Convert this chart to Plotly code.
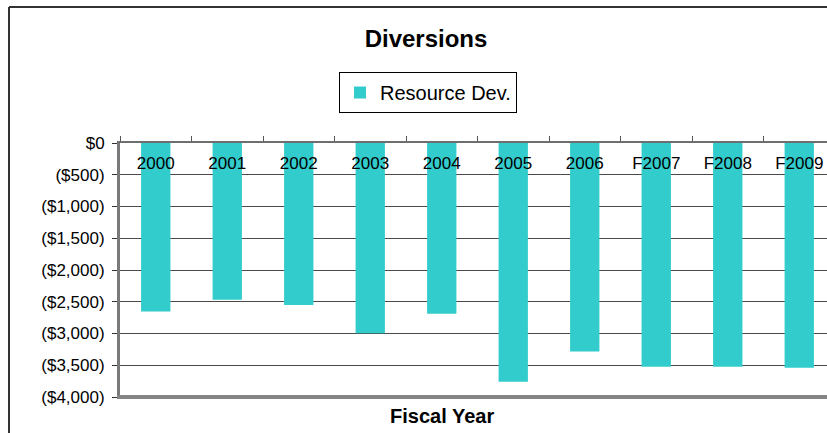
import plotly.graph_objects as go

categories = ["2000", "2001", "2002", "2003", "2004", "2005", "2006", "F2007", "F2008", "F2009"]
resource_dev = [-2655, -2470, -2550, -2995, -2690, -3760, -3285, -3525, -3525, -3540]
y_ticks = [0, -500, -1000, -1500, -2000, -2500, -3000, -3500, -4000]
y_tick_labels = ["$0", "($500)", "($1,000)", "($1,500)", "($2,000)", "($2,500)", "($3,000)", "($3,500)", "($4,000)"]

W, H = 827, 433
L, R, T, B = 120, 0, 143, 36
FONT = "Liberation Sans, Arial, sans-serif"

pw = W - L - R
ph = H - T - B
def px_to_paper_x(px):
    return (px - L) / pw
def py_to_paper_y(py):
    return (H - B - py) / ph

fig = go.Figure()
fig.add_trace(go.Bar(
    x=categories, y=resource_dev, name="Resource Dev.",
    marker=dict(color="#33CCCC", line=dict(width=0)),
))

x_range = [-0.5, len(categories) - 0.5 - 8 / 71.5]

fig.update_layout(
    width=W, height=H,
    margin=dict(l=L, r=R, t=T, b=B, pad=0),
    paper_bgcolor="white", plot_bgcolor="white",
    font=dict(family=FONT, size=17, color="black"),
    bargap=0.59,
    showlegend=True,
    title=dict(text="<b>Diversions</b>", x=426 / W, xanchor="center",
               y=1 - 39 / H, yanchor="middle", font=dict(size=24, family=FONT)),
    legend=dict(
        orientation="h", x=px_to_paper_x(428), xanchor="center",
        y=py_to_paper_y(72), yanchor="top",
        bordercolor="black", borderwidth=1, bgcolor="white",
        font=dict(size=20, family=FONT),
        itemwidth=30,
    ),
    xaxis=dict(
        type="category", side="top", range=x_range,
        ticks="outside", tickson="boundaries", ticklen=5, tickcolor="#555555", tickwidth=1,
        ticklabelstandoff=-35,
        showline=True, linecolor="#6e6e6e", linewidth=2,
        showgrid=False, zeroline=False,
        tickfont=dict(size=17, family=FONT, color="black"),
    ),
    yaxis=dict(
        range=[-4000, 0],
        tickvals=y_ticks, ticktext=y_tick_labels,
        ticks="outside", ticklen=5, tickcolor="#333333", tickwidth=1,
        ticklabelstandoff=4,
        showline=True, linecolor="#7a7a7a", linewidth=3,
        showgrid=True, gridcolor="#4a4a4a", gridwidth=1,
        zeroline=False,
        tickfont=dict(size=17, family=FONT),
    ),
)

shapes = [
    # thick bottom border of plot area
    dict(type="line", xref="paper", yref="paper", x0=px_to_paper_x(117), x1=1.05, y0=0, y1=0,
         line=dict(color="#858585", width=4), layer="above"),
    # outer chart frame
    dict(type="line", xref="paper", yref="paper",
         x0=px_to_paper_x(9), x1=1.2, y0=py_to_paper_y(7), y1=py_to_paper_y(7),
         line=dict(color="#333333", width=2), layer="above"),
    dict(type="line", xref="paper", yref="paper",
         x0=px_to_paper_x(9), x1=px_to_paper_x(9), y0=py_to_paper_y(7), y1=-0.5,
         line=dict(color="#333333", width=2), layer="above"),
]
fig.update_layout(shapes=shapes)

fig.add_annotation(
    text="<b>Fiscal Year</b>", xref="paper", yref="paper",
    x=px_to_paper_x(442), y=py_to_paper_y(416), xanchor="center", yanchor="middle",
    showarrow=False, font=dict(size=20, family=FONT),
)

fig.write_html(
    "out.html",
    config={"displayModeBar": False},
    post_script="document.body.style.margin='0';document.body.style.overflow='hidden';",
)
